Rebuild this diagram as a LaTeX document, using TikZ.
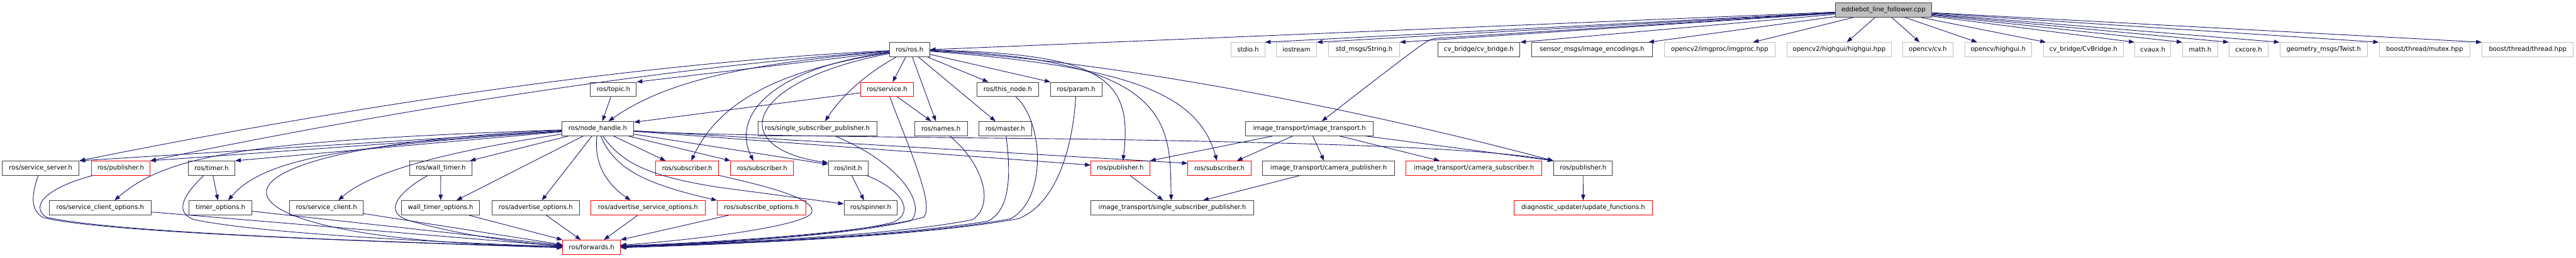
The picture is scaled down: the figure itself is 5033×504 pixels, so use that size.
\documentclass[tikz,border=0pt]{standalone}
\usepackage{fontspec}
\usetikzlibrary{arrows.meta}
\newfontfamily\nfont{DejaVu Sans}
\definecolor{edgec}{HTML}{191970}
\definecolor{gry}{HTML}{BFBFBF}
\definecolor{bdr}{HTML}{404040}
\tikzset{
  nbox/.style={draw=bdr, line width=1.1pt, minimum height=28pt, inner sep=0pt, fill=white,
    font=\nfont\fontsize{12.4pt}{14pt}\selectfont},
  bbox/.style={nbox},
  rbox/.style={nbox, draw=red},
  gbox/.style={nbox, draw=gry},
  rootbox/.style={nbox, fill=gry},
  e/.style={draw=edgec, line width=1.1pt, -{Triangle[length=11pt,width=8pt]}},
}
\newcommand\mknd[6]{\node[#5, minimum width=#4] (#1) at (#2,#3) {#6};}
\begin{document}
\begin{tikzpicture}[x=1pt,y=-1pt]
\useasboundingbox (0,0) rectangle (5033,504);
\fill[white] (0,0) rectangle (5033,504);
% row 0
\mknd{root}{3679.9}{19.7}{188.3}{rootbox}{eddiebot\_line\_follower.cpp}
% row 1
\mknd{rosh}{1777.2}{97.2}{78.6}{bbox}{ros/ros.h}
\mknd{stdio}{2438.4}{97.2}{65.2}{gbox}{stdio.h}
\mknd{iostream}{2533}{97.2}{78.5}{gbox}{iostream}
\mknd{string}{2665.2}{97.2}{138.4}{gbox}{std\_msgs/String.h}
\mknd{cvbridge}{2889.3}{97.2}{160.7}{bbox}{cv\_bridge/cv\_bridge.h}
\mknd{encod}{3110.5}{97.2}{235.2}{bbox}{sensor\_msgs/image\_encodings.h}
\mknd{imgproc}{3359.9}{97.2}{216.1}{gbox}{opencv2/imgproc/imgproc.hpp}
\mknd{highguihpp}{3593.3}{97.2}{204.7}{gbox}{opencv2/highgui/highgui.hpp}
\mknd{cvh}{3766.5}{97.2}{97.6}{gbox}{opencv/cv.h}
\mknd{highguih}{3904}{97.2}{130.6}{gbox}{opencv/highgui.h}
\mknd{cvbridgeB}{4070.6}{97.2}{155.8}{gbox}{cv\_bridge/CvBridge.h}
\mknd{cvaux}{4206.1}{97.2}{70.4}{gbox}{cvaux.h}
\mknd{mathh}{4298.5}{97.2}{68.4}{gbox}{math.h}
\mknd{cxcore}{4393.3}{97.2}{76.2}{gbox}{cxcore.h}
\mknd{twist}{4539.9}{97.2}{171.1}{gbox}{geometry\_msgs/Twist.h}
\mknd{mutex}{4737.2}{97.2}{177.7}{gbox}{boost/thread/mutex.hpp}
\mknd{threadh}{4938.6}{97.2}{178.6}{gbox}{boost/thread/thread.hpp}
% row 2
\mknd{topic}{1198.5}{175}{89.7}{bbox}{ros/topic.h}
\mknd{service}{1733}{175}{102.7}{rbox}{ros/service.h}
\mknd{thisnode}{1969}{175}{120.1}{bbox}{ros/this\_node.h}
\mknd{param}{2102.7}{175}{100}{bbox}{ros/param.h}
% row 3
\mknd{nh}{1167.9}{251.8}{140.7}{bbox}{ros/node\_handle.h}
\mknd{ssp}{1596.9}{251.8}{232.2}{bbox}{ros/single\_subscriber\_publisher.h}
\mknd{names}{1838.4}{251.8}{102.7}{bbox}{ros/names.h}
\mknd{master}{1963.9}{251.8}{102.7}{bbox}{ros/master.h}
\mknd{it}{2558.5}{251.8}{250}{bbox}{image\_transport/image\_transport.h}
% row 4
\mknd{sserver}{79.6}{329.2}{150}{bbox}{ros/service\_server.h}
\mknd{pubA}{235.8}{329.2}{114.3}{rbox}{ros/publisher.h}
\mknd{timer}{413.3}{329.2}{91.3}{bbox}{ros/timer.h}
\mknd{walltimer}{861.2}{329.2}{121.5}{bbox}{ros/wall\_timer.h}
\mknd{subA}{1342.5}{329.2}{122.4}{rbox}{ros/subscriber.h}
\mknd{subB}{1489}{329.2}{122.7}{rbox}{ros/subscriber.h}
\mknd{init}{1657.2}{329.2}{77.7}{bbox}{ros/init.h}
\mknd{pubB}{2188.9}{329.2}{115.1}{rbox}{ros/publisher.h}
\mknd{subC}{2382.6}{329.2}{123.2}{rbox}{ros/subscriber.h}
\mknd{campub}{2595.8}{329.2}{257.6}{bbox}{image\_transport/camera\_publisher.h}
\mknd{camsub}{2879.9}{329.2}{265.2}{rbox}{image\_transport/camera\_subscriber.h}
\mknd{pubC}{3093}{329.2}{114.7}{bbox}{ros/publisher.h}
% row 5
\mknd{sco}{195.8}{406.7}{199}{bbox}{ros/service\_client\_options.h}
\mknd{timeropt}{430.7}{406.7}{123.3}{bbox}{timer\_options.h}
\mknd{sclient}{637.9}{406.7}{143.8}{bbox}{ros/service\_client.h}
\mknd{wto}{860.9}{406.7}{152.2}{bbox}{wall\_timer\_options.h}
\mknd{advopt}{1046.6}{406.7}{170.9}{bbox}{ros/advertise\_options.h}
\mknd{advsopt}{1266.1}{406.7}{223.2}{rbox}{ros/advertise\_service\_options.h}
\mknd{subopt}{1487.7}{406.7}{172.8}{rbox}{ros/subscribe\_options.h}
\mknd{spinner}{1701.1}{406.7}{104}{bbox}{ros/spinner.h}
\mknd{itssp}{2290.4}{406.7}{319.2}{bbox}{image\_transport/single\_subscriber\_publisher.h}
\mknd{diag}{3093.3}{406.7}{270.6}{rbox}{diagnostic\_updater/update\_functions.h}
% row 6
\mknd{fwd}{1155.8}{484}{112.4}{rbox}{ros/forwards.h}

% ---- edges from root
\draw[e] (root) -- (rosh.east);
\draw[e] (root) -- (stdio.north east);
\draw[e] (root) -- (iostream.north east);
\draw[e] (root) -- (string.north east);
\draw[e] (root) -- (2805,75) .. controls (2788,78) .. ([xshift=24]it.north);
\draw[e] (root) -- (cvbridge.north east);
\draw[e] (root) -- ([xshift=-8]encod.north east);
\draw[e] (root) -- ([xshift=65]imgproc.north);
\draw[e] (root) -- ([xshift=15]highguihpp.north);
\draw[e] (root) -- ([xshift=-16]cvh.north);
\draw[e] (root) -- ([xshift=-41]highguih.north);
\draw[e] (root) -- ([xshift=5]cvbridgeB.north west);
\draw[e] (root) -- (cvaux.north west);
\draw[e] (root) -- (mathh.north west);
\draw[e] (root) -- (cxcore.north west);
\draw[e] (root) -- (twist.north west);
\draw[e] (root) -- (mutex.north west);
\draw[e] (root) -- (threadh.north west);

% ---- edges from ros/ros.h
\draw[e] (rosh) .. controls (1200,125) and (600,225) .. (sserver.north east);
\draw[e] (rosh) .. controls (1250,135) and (700,230) .. (pubA.north east);
\draw[e] (rosh) -- (topic.north east);
\draw[e] (rosh) .. controls (1450,125) and (1300,160) .. ([xshift=21]nh.north);
\draw[e] (rosh) .. controls (1500,140) and (1400,210) .. ([xshift=8]subA.north);
\draw[e] (rosh) .. controls (1500,135) and (1430,230) .. ([xshift=-17]subB.north);
\draw[e] (rosh) .. controls (1450,160) and (1420,290) .. ([yshift=-4]init.north west);
\draw[e] (rosh) .. controls (1700,140) and (1650,180) .. ([xshift=15]ssp.north);
\draw[e] (rosh) -- ([xshift=11]service.north);
\draw[e] (rosh) -- ([xshift=-10]names.north);
\draw[e] (rosh) -- ([xshift=-19]master.north);
\draw[e] (rosh) -- ([xshift=-38]thisnode.north);
\draw[e] (rosh) -- (param.north west);
\draw[e] (rosh) .. controls (2150,105) and (2215,150) .. ([xshift=5]pubB.north);
\draw[e] (rosh) .. controls (2300,115) and (2285,250) .. ([xshift=-2]itssp.north);
\draw[e] (rosh) .. controls (2200,130) and (2340,180) .. ([xshift=-5]subC.north);
\draw[e] (rosh) .. controls (2200,120) and (2700,225) .. (pubC.north west);

% ---- edges from ros/node_handle.h
\draw[e] (nh) -- (sserver.north east);
\draw[e] (nh) -- (pubA.north east);
\draw[e] (nh) -- (timer.north east);
\draw[e] (nh) .. controls (500,275) and (330,300) .. ([xshift=28]sco.north);
\draw[e] (nh) .. controls (700,285) and (520,305) .. ([xshift=15]timeropt.north);
\draw[e] (nh) .. controls (850,300) and (720,340) .. ([xshift=23]sclient.north);
\draw[e] (nh) .. controls (300,290) and (360,475) .. ([yshift=2]fwd.west);
\draw[e] (nh) -- ([xshift=57]walltimer.north);
\draw[e] (nh) -- ([xshift=31]wto.north);
\draw[e] (nh) -- ([xshift=12]advopt.north);
\draw[e] (nh) .. controls (1160,320) and (1185,360) .. ([xshift=-34]advsopt.north);
\draw[e] (nh) .. controls (1200,330) and (1260,360) .. (subopt.north west);
\draw[e] (nh) .. controls (1215,320) and (1270,345) .. (1400,366) -- ([yshift=-7]spinner.north west);
\draw[e] (nh) -- ([xshift=-42]subA.north);
\draw[e] (nh) -- (subB.north west);
\draw[e] (nh) -- ([yshift=-7]init.north west);
\draw[e] (nh) -- ([yshift=6]pubB.west);
\draw[e] (nh) -- ([yshift=-5]subC.north west);
\draw[e] (nh) .. controls (1350,264) and (1700,268) .. (2100,272) .. controls (2600,280) and (2900,290) .. (pubC.north west);

% ---- other edges
\draw[e] (topic) -- ([xshift=9]nh.north);
\draw[e] (service) -- ([yshift=-2]nh.north east);
\draw[e] (service) -- ([xshift=-19]names.north);
\draw[e] (walltimer) -- (wto);
\draw[e] (timer) -- ([xshift=-5]timeropt.north);
\draw[e] (init) -- ([xshift=-13]spinner.north);
\draw[e] (it) -- (pubB.north east);
\draw[e] (it) -- ([xshift=34]subC.north);
\draw[e] (it) -- ([xshift=-9]campub.north);
\draw[e] (it) -- ([xshift=-67]camsub.north);
\draw[e] (it) -- (pubC.north west);
\draw[e] (pubB) -- ([xshift=-18]itssp.north);
\draw[e] (campub) -- ([xshift=60]itssp.north);
\draw[e] (pubC) -- (diag);

% ---- into ros/forwards.h from the right
\draw[e] (service) .. controls (1780,300) and (1825,400) .. (1805,425) .. controls (1700,455) and (1400,475) .. ([yshift=3]fwd.east);
\draw[e] (names) .. controls (1920,320) and (1945,400) .. (1900,430) .. controls (1750,460) and (1450,475) .. ([yshift=2]fwd.east);
\draw[e] (master) .. controls (1975,340) and (1975,410) .. (1930,433) .. controls (1750,462) and (1450,476) .. ([yshift=1]fwd.east);
\draw[e] (thisnode) .. controls (2040,240) and (2045,390) .. (1975,428) .. controls (1800,462) and (1450,476) .. (fwd.east);
\draw[e] (param) .. controls (2095,300) and (2060,400) .. (1990,428) .. controls (1800,463) and (1450,477) .. ([yshift=-1]fwd.east);
\draw[e] (init) .. controls (1760,370) and (1790,415) .. (1745,435) .. controls (1650,460) and (1400,476) .. ([yshift=2]fwd.east);
\draw[e] (ssp) .. controls (1760,320) and (1810,400) .. (1780,432) .. controls (1650,462) and (1400,476) .. ([yshift=1]fwd.east);
\draw[e] (subA) .. controls (1500,365) and (1600,390) .. (1585,418) .. controls (1560,445) and (1350,470) .. ([yshift=4]fwd.east);
\draw[e] (subopt) -- (fwd.north east);

% ---- into ros/forwards.h from the left
\draw[e] (sserver) .. controls (62,380) and (58,412) .. (85,426) .. controls (200,455) and (700,472) .. ([yshift=-1]fwd.west);
\draw[e] (pubA) .. controls (100,365) and (55,400) .. (90,425) .. controls (220,455) and (700,472) .. (fwd.west);
\draw[e] (sco) -- ([yshift=2]fwd.west);
\draw[e] (timer) .. controls (365,375) and (335,415) .. (380,430) .. controls (500,455) and (800,472) .. ([yshift=1]fwd.west);
\draw[e] (timeropt) -- ([yshift=4]fwd.west);
\draw[e] (sclient) -- ([yshift=5]fwd.west);
\draw[e] (walltimer) .. controls (780,375) and (745,415) .. (800,432) .. controls (900,460) and (1000,474) .. ([yshift=3]fwd.west);
\draw[e] (wto) -- (fwd.north west);
\draw[e] (advopt) -- ([xshift=-21]fwd.north);
\draw[e] (advsopt) -- ([xshift=24]fwd.north);
\end{tikzpicture}
\end{document}
